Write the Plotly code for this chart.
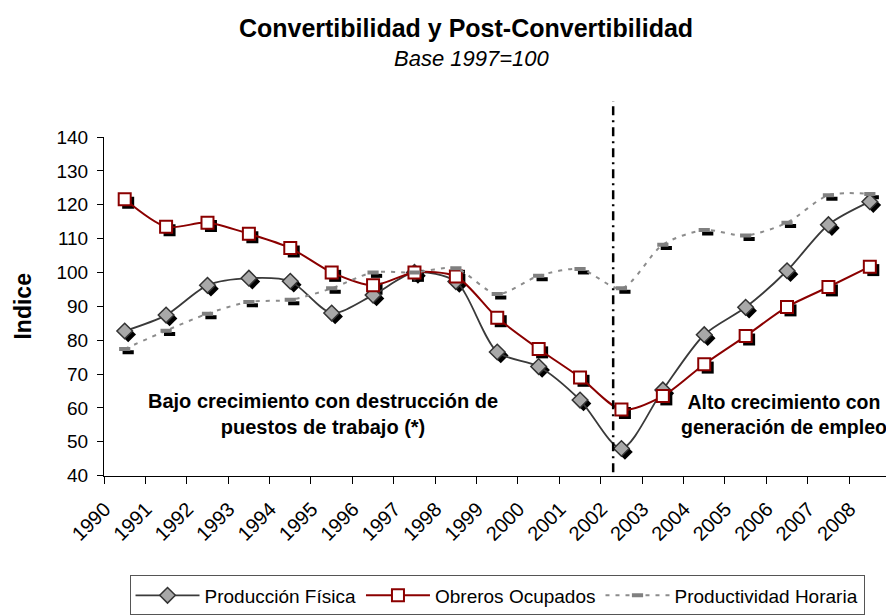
import plotly.graph_objects as go

years = [str(y) for y in range(1990, 2009)]
produccion_fisica = [82.7, 87.4, 96.2, 98.3, 97.4, 88.0, 93.3, 100.0, 97.3, 76.5,
                     72.2, 62.3, 48.0, 65.3, 81.6, 89.7, 100.5, 114.1, 120.9]
obreros_ocupados = [121.6, 113.5, 114.7, 111.4, 107.2, 100.0, 96.2, 100.0, 98.8, 86.6,
                    77.4, 69.0, 59.5, 63.5, 72.9, 81.2, 89.8, 95.7, 101.7]
productividad_horaria = [77.4, 82.8, 87.8, 91.3, 91.9, 95.3, 100.0, 100.0, 101.2, 93.6,
                         99.0, 101.0, 95.3, 108.2, 112.5, 110.9, 114.7, 122.8, 123.2]
divider_position = 11.8  # between 2001 and 2002 categories (category index)

FONT = "Liberation Sans, Arial, sans-serif"

fig = go.Figure()

# shadow layer (base subplot, slightly offset down-right)
for vals, sym, size, lw in [(produccion_fisica, "diamond", 12, 0),
                            (obreros_ocupados, "square", 12, 0),
                            (productividad_horaria, "line-ew", 8, 4)]:
    fig.add_trace(go.Scatter(
        x=years, y=vals, mode="markers", xaxis="x", yaxis="y", showlegend=False,
        hoverinfo="skip",
        marker=dict(symbol=sym, size=size, color="black",
                    line=dict(color="black", width=lw)),
    ))

# main series
fig.add_trace(go.Scatter(
    x=years, y=produccion_fisica, name="Producción Física", mode="lines+markers",
    xaxis="x2", yaxis="y2",
    line=dict(color="#3a3a3a", width=1.8, shape="spline", smoothing=0.8),
    marker=dict(symbol="diamond", size=12, color="#a8a8a8",
                line=dict(color="#333333", width=1.5)),
))
fig.add_trace(go.Scatter(
    x=years, y=obreros_ocupados, name="Obreros Ocupados", mode="lines+markers",
    xaxis="x2", yaxis="y2",
    line=dict(color="#8b0000", width=2, shape="spline", smoothing=0.8),
    marker=dict(symbol="square", size=12, color="white",
                line=dict(color="#8b0000", width=2)),
))
fig.add_trace(go.Scatter(
    x=years, y=productividad_horaria, name="Productividad Horaria", mode="lines+markers",
    xaxis="x2", yaxis="y2",
    line=dict(color="#8c8c8c", width=2, dash="4px,6px", shape="spline", smoothing=0.8),
    marker=dict(symbol="line-ew", size=8, color="#808080",
                line=dict(color="#808080", width=4)),
))

fig.add_shape(type="line", xref="x2", yref="paper",
              x0=divider_position, x1=divider_position, y0=0.02, y1=1.105,
              line=dict(color="black", width=2.5, dash="9px,5px,2px,5px"))

fig.add_annotation(xref="paper", yref="paper", x=0.277, y=0.19,
                   text="<b>Bajo crecimiento con destrucción de<br>puestos de trabajo (*)</b>",
                   showarrow=False, font=dict(size=20, color="black", family=FONT),
                   xanchor="center", yanchor="middle")
fig.add_annotation(xref="paper", yref="paper", x=0.861, y=0.19,
                   text="<b>Alto crecimiento con<br>generación de empleo</b>",
                   showarrow=False, font=dict(size=19.5, color="black", family=FONT),
                   xanchor="center", yanchor="middle")
fig.add_annotation(xref="paper", yref="paper", x=(464 - 96) / 790, y=1.23,
                   text="<i>Base 1997=100</i>", showarrow=False,
                   font=dict(size=22, color="black", family=FONT),
                   xanchor="center", yanchor="middle")

fig.update_layout(
    width=894, height=615,
    margin=dict(l=96, r=8, t=129, b=135),
    paper_bgcolor="white", plot_bgcolor="rgba(0,0,0,0)",
    font=dict(family=FONT, color="black"),
    title=dict(text="<b>Convertibilidad y Post-Convertibilidad</b>",
               x=458 / 894, xanchor="center", xref="container",
               y=1 - 20 / 615, yanchor="middle", yref="container",
               font=dict(size=25, color="black", family=FONT)),
    xaxis=dict(type="category", categoryorder="array", categoryarray=years,
               range=[-0.5, 18.5], domain=[0.0044, 1.0], anchor="y",
               visible=False, fixedrange=True),
    yaxis=dict(range=[40, 140], domain=[0.0, 0.99], anchor="x",
               visible=False, fixedrange=True),
    xaxis2=dict(type="category", categoryorder="array", categoryarray=years,
                range=[-0.5, 18.5], domain=[0.0, 0.9956], anchor="y2",
                showline=True, linecolor="black", linewidth=1,
                ticks="outside", ticklen=7, tickcolor="black", tickson="boundaries",
                tickangle=-45, tickfont=dict(size=20, color="black"),
                ticklabelshift=-20, ticklabelstandoff=13,
                showgrid=False, zeroline=False),
    yaxis2=dict(range=[40, 140], dtick=10, domain=[0.01, 1.0], anchor="x2",
                showline=True, linecolor="black", linewidth=1,
                ticks="outside", ticklen=6, tickcolor="black",
                tickfont=dict(size=19, color="black"), ticklabelstandoff=5,
                showgrid=False, zeroline=False,
                title=dict(text="<b>Indice</b>", font=dict(size=23, color="black"),
                           standoff=18)),
    legend=dict(orientation="h", xref="paper", yref="paper",
                x=0.4975, xanchor="center", y=-0.282, yanchor="top",
                bordercolor="#555555", borderwidth=1, bgcolor="white",
                font=dict(size=19, color="black"), itemwidth=64,
                tracegroupgap=0),
)

fig.write_html("out.html")
